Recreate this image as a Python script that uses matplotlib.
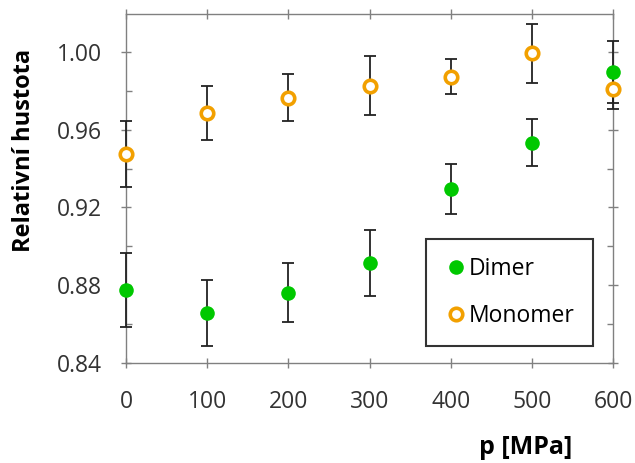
import matplotlib
matplotlib.use("Agg")
import matplotlib.pyplot as plt
from matplotlib.ticker import MultipleLocator, FormatStrFormatter

pressure = [0, 100, 200, 300, 400, 500, 600]
dimer = [0.8777, 0.8656, 0.8762, 0.8916, 0.9295, 0.9533, 0.9899]
dimer_err = [0.019, 0.017, 0.015, 0.017, 0.0127, 0.012, 0.016]
monomer = [0.9474, 0.9686, 0.9765, 0.9827, 0.9873, 0.9993, 0.9808]
monomer_err = [0.017, 0.014, 0.012, 0.015, 0.009, 0.015, 0.010]
x_ticks = [0, 100, 200, 300, 400, 500, 600]
y_ticks = [0.84, 0.88, 0.92, 0.96, 1.00]

plt.rcParams['font.family'] = ['Open Sans', 'DejaVu Sans']

fig = plt.figure(figsize=(6.35, 4.63), dpi=100)
ax = fig.add_axes([0.1984, 0.216, 0.767, 0.754])

green = '#00C800'
orange = '#F2A000'

ax.errorbar(pressure, dimer, yerr=dimer_err, fmt='none', ecolor='#222222',
            elinewidth=1.3, capsize=4, capthick=1.3, zorder=3, clip_on=False)
ax.errorbar(pressure, monomer, yerr=monomer_err, fmt='none', ecolor='#222222',
            elinewidth=1.3, capsize=4, capthick=1.3, zorder=3, clip_on=False)
ax.plot(pressure, dimer, 'o', color=green, markersize=10.5, markeredgewidth=0,
        label='Dimer', zorder=4, clip_on=False)
ax.plot(pressure, monomer, 'o', markerfacecolor='white', markeredgecolor=orange,
        markersize=9, markeredgewidth=2.6, label='Monomer', zorder=5, clip_on=False)

ax.set_xlim(0, 600)
ax.set_ylim(0.84, 1.0196)
ax.set_xticks(x_ticks)
ax.set_yticks(y_ticks)
ax.yaxis.set_minor_locator(MultipleLocator(0.02))
ax.yaxis.set_major_formatter(FormatStrFormatter('%.2f'))

for s in ax.spines.values():
    s.set_color('#808080')
    s.set_linewidth(1.0)

ax.tick_params(axis='both', which='major', direction='inout', length=7,
               width=1.0, color='#808080', labelsize=16.5, labelcolor='#333333',
               top=True, right=True)
ax.tick_params(axis='x', which='major', pad=16)
ax.tick_params(axis='y', which='major', pad=14)
ax.tick_params(axis='y', which='minor', direction='in', length=4, width=1.0,
               color='#808080', right=True)

leg = ax.legend(loc='lower right', bbox_to_anchor=(0.959, 0.048), fontsize=16.5,
                frameon=True, fancybox=False, edgecolor='black',
                handletextpad=0.05, handlelength=1.0, labelspacing=1.0,
                borderpad=0.8, borderaxespad=0)
leg.get_frame().set_linewidth(1.5)

fig.text(0.038, 0.676, 'Relativní hustota', rotation=90, fontsize=17,
         fontweight='bold', ha='center', va='center')
fig.text(0.8276, 0.019, 'p [MPa]', fontsize=18, fontweight='bold',
         ha='center', va='baseline')

fig.savefig('out.png', dpi=100)
